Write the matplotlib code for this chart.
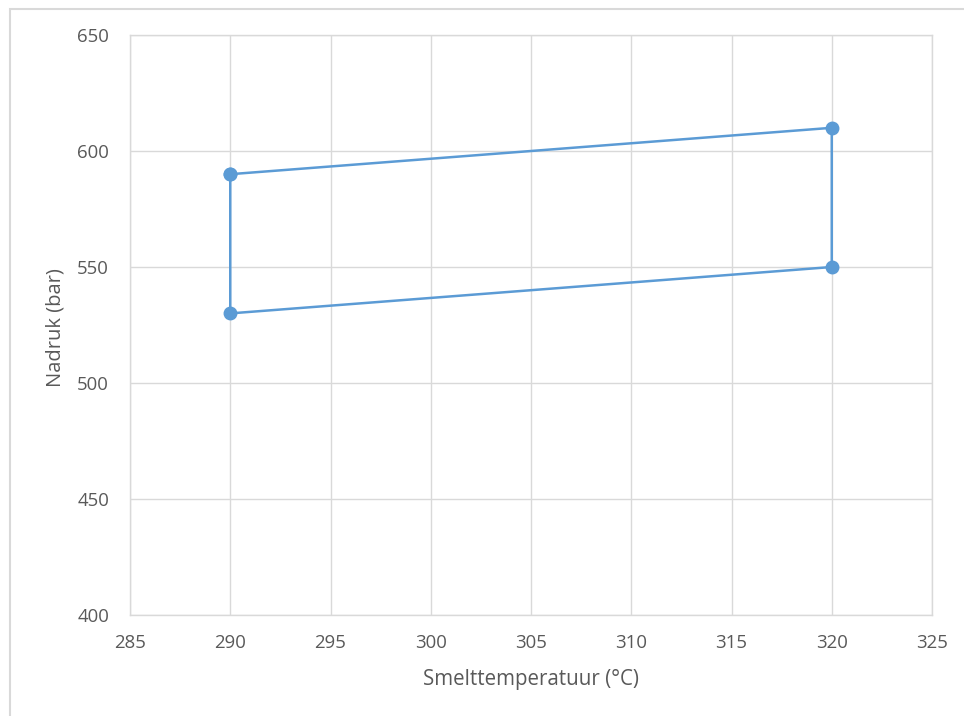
import matplotlib
matplotlib.use("Agg")
import matplotlib.pyplot as plt
from matplotlib.patches import Rectangle

# Process window: melt temperature vs. holding pressure
temperature = [290, 320, 320, 290, 290]
pressure = [590, 610, 550, 530, 590]

x_ticks = [285, 290, 295, 300, 305, 310, 315, 320, 325]
y_ticks = [400, 450, 500, 550, 600, 650]

W, H = 964, 716
fig = plt.figure(figsize=(W / 100, H / 100), dpi=100)
plt.rcParams['font.family'] = ['Open Sans', 'DejaVu Sans']

# outer chart frame (runs off the right and bottom edges)
fig.patches.append(Rectangle((9.5 / W, -0.05), 1.2, 1.05 - 8.5 / H,
                             transform=fig.transFigure, fill=False,
                             edgecolor='#d9d9d9', linewidth=1.5))

ax = fig.add_axes([130 / W, (H - 615) / H, 802 / W, 580 / H])
grid_c = '#d9d9d9'
text_c = '#595959'

ax.plot(temperature, pressure, color='#5b9bd5', linewidth=1.8,
        marker='o', markersize=9, zorder=3, clip_on=False)

ax.set_xlim(285, 325)
ax.set_ylim(400, 650)
ax.set_xticks(x_ticks)
ax.set_yticks(y_ticks)
ax.grid(True, color=grid_c, linewidth=1)
ax.set_axisbelow(True)
for s in ax.spines.values():
    s.set_color(grid_c)
    s.set_linewidth(1)
ax.tick_params(axis='x', length=0, labelsize=13.4, colors=text_c, pad=14)
ax.tick_params(axis='y', length=0, labelsize=13.4, colors=text_c, pad=15)
ax.set_xlabel('Smelttemperatuur (°C)', fontsize=14.8, color=text_c, va='center')
ax.set_ylabel('Nadruk (bar)', fontsize=14.5, color=text_c, va='center')
ax.xaxis.set_label_coords(401 / 802, (615 - 680) / 580)
ax.yaxis.set_label_coords((55 - 130) / 802, (615 - 328) / 580)

fig.savefig('out.png', dpi=100, facecolor='white')
